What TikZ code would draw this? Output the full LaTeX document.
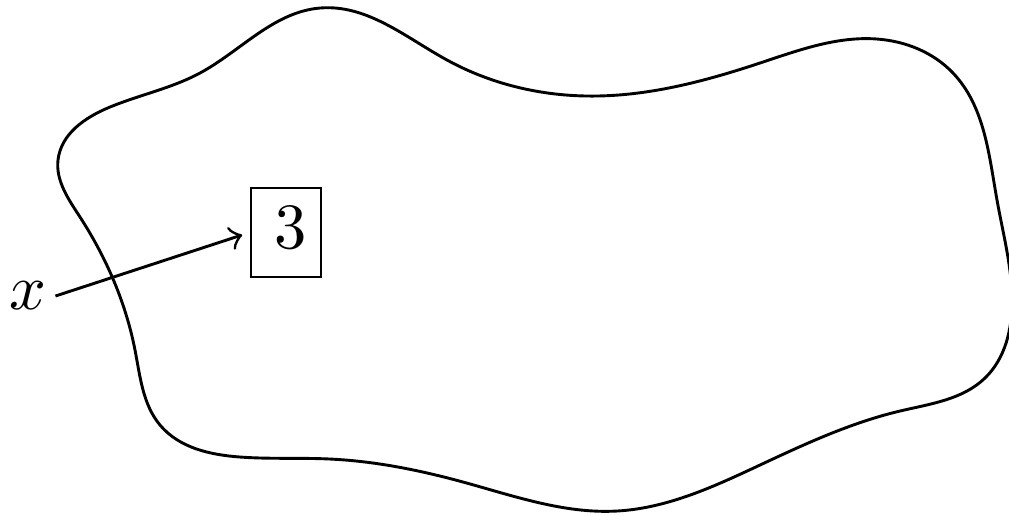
\documentclass[tikz,border=0pt]{standalone}
\usetikzlibrary{hobby}
\begin{document}
\begin{tikzpicture}[x=0.155pt,y=-0.155pt,
  blob/.style={line width=0.45pt,use Hobby shortcut,closed=true},
  valbox/.style={draw,line width=0.45pt,inner sep=0pt,minimum width=10.85pt,minimum height=13.8pt,text height=6.5pt,text depth=1.7pt},
  varlabel/.style={inner sep=1.2pt},
  pointer/.style={->,line width=0.45pt,shorten >=1.2pt}]
\useasboundingbox (0,0) rectangle (1009,515);
\draw[blob] (320,8) .. (447,60) .. (587,96) .. (760,63) .. (877,39) .. (953,73)
  .. (997,200) .. (1012,300) .. (985,378) .. (900,411) .. (760,465)
  .. (617,511) .. (463,482) .. (330,459) .. (240,457) .. (160,425)
  .. (135,350) .. (80,217) .. (58,160) .. (110,107) .. (200,73) .. (320,8);
\node[valbox] (box) at (286,232.5) {\kern1.5pt$3$};
\node[varlabel] (xl) at (28,296) {$x$};
\draw[pointer] (xl.east) -- (box.west);
\end{tikzpicture}
\end{document}
